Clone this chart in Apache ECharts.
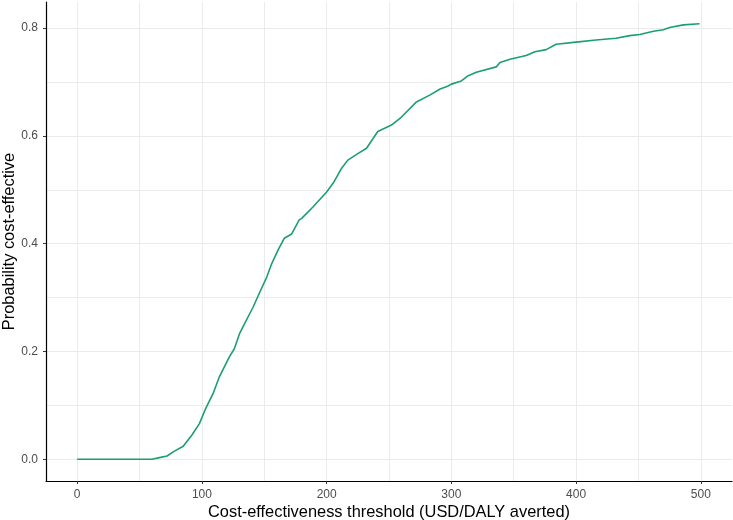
<!DOCTYPE html>
<html>
<head>
<meta charset="utf-8">
<script src="https://cdn.jsdelivr.net/npm/echarts@6/dist/echarts.min.js"></script>
<style>
  html, body { margin: 0; padding: 0; background: #fff; }
  #chart { width: 733px; height: 520px; }
</style>
</head>
<body>
<div id="chart"></div>
<script>
  // CEAC
  let thresholds = [0, 60, 61, 66, 72, 78, 85, 92, 98, 103, 109, 114, 122, 126, 130, 133, 141, 146, 152, 156,
    161, 166, 172, 178, 180, 189, 200, 206, 212, 217, 225, 232, 241, 252, 260, 272, 283, 291, 297, 300,
    308, 313, 320, 336, 339, 347, 360, 367, 376, 384, 400, 416, 432, 443, 451, 462, 470, 475, 486, 499];
  let probs = [0, 0, 0.001, 0.003, 0.006, 0.015, 0.024, 0.045, 0.066, 0.094, 0.122, 0.153, 0.19, 0.205, 0.232, 0.246, 0.282, 0.308, 0.338, 0.363,
    0.388, 0.41, 0.418, 0.444, 0.447, 0.468, 0.496, 0.515, 0.54, 0.555, 0.567, 0.577, 0.608, 0.62, 0.635, 0.663, 0.676, 0.687, 0.692, 0.696,
    0.702, 0.711, 0.718, 0.728, 0.736, 0.742, 0.749, 0.756, 0.76, 0.77, 0.774, 0.778, 0.781, 0.786, 0.788, 0.794, 0.797, 0.801, 0.806, 0.808];

  let xTicks = [0, 100, 200, 300, 400, 500];
  let xMinor = [50, 150, 250, 350, 450];
  let yTicks = [0, 0.2, 0.4, 0.6, 0.8];
  let yMinor = [0.1, 0.3, 0.5, 0.7];

  let chart = echarts.init(document.getElementById('chart'));

  let gridLines = [];
  xTicks.concat(xMinor).forEach(v => { gridLines.push({ xAxis: v }); });
  yTicks.concat(yMinor).forEach(v => { gridLines.push({ yAxis: v }); });

  let option = {
    animation: false,
    grid: { left: 46, right: 1, top: 2, bottom: 39, containLabel: false, outerBoundsMode: 'none' },
    xAxis: {
      type: 'value',
      min: -25,
      max: 525,
      name: 'Cost-effectiveness threshold (USD/DALY averted)',
      nameLocation: 'middle',
      nameGap: 23,
      nameMoveOverlap: false,
      nameTextStyle: { color: '#000', fontSize: 16.4, fontFamily: 'Liberation Sans' },
      axisLine: { show: true, onZero: false, lineStyle: { color: '#000', width: 1.2 } },
      axisTick: { show: true, length: 3, customValues: xTicks, lineStyle: { color: '#333' } },
      axisLabel: { customValues: xTicks, margin: 8, color: '#4D4D4D', fontSize: 12, fontFamily: 'Liberation Sans' },
      splitLine: { show: false }
    },
    yAxis: {
      type: 'value',
      min: -0.0404,
      max: 0.8484,
      name: 'Probability cost-effective',
      nameLocation: 'middle',
      nameGap: 29,
      nameMoveOverlap: false,
      nameTextStyle: { color: '#000', fontSize: 16.4, fontFamily: 'Liberation Sans' },
      axisLine: { show: true, onZero: false, lineStyle: { color: '#000', width: 1.2 } },
      axisTick: { show: true, length: 3, customValues: yTicks, lineStyle: { color: '#333' } },
      axisLabel: {
        customValues: yTicks, margin: 8, color: '#4D4D4D', fontSize: 12, fontFamily: 'Liberation Sans',
        formatter: v => v.toFixed(1)
      },
      splitLine: { show: false }
    },
    series: [
      {
        type: 'line',
        data: [],
        z: 1,
        silent: true,
        markLine: {
          silent: true,
          z: 0,
          symbol: 'none',
          label: { show: false },
          emphasis: { disabled: true },
          lineStyle: { color: '#EBEBEB', width: 1, type: 'solid' },
          data: gridLines
        }
      },
      {
        type: 'line',
        z: 3,
        data: thresholds.map((t, i) => [t, probs[i]]),
        showSymbol: false,
        lineStyle: { color: '#1B9E77', width: 1.6 },
        itemStyle: { color: '#1B9E77' }
      }
    ]
  };
  chart.setOption(option);
</script>
</body>
</html>
